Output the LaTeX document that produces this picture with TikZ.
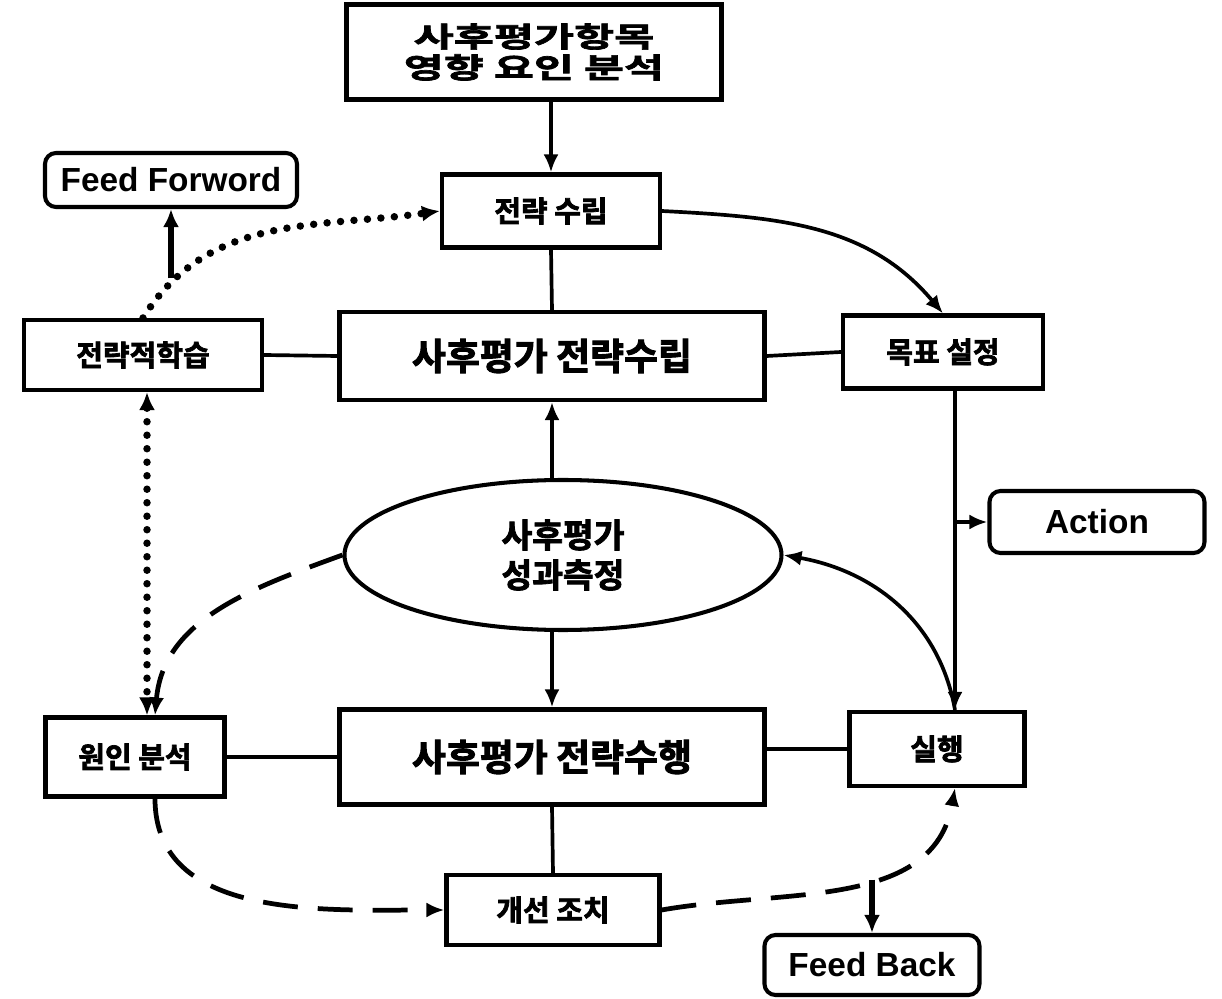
\documentclass[tikz,border=0pt]{standalone}
\usepackage{fontspec}
\setmainfont{Liberation Sans}
\newfontfamily\kr{Noto Sans CJK KR Bold}[FakeBold=2.5]
\newfontfamily\krwide{Noto Sans CJK KR Bold}[FakeStretch=1.55,FakeBold=2.5]
\usetikzlibrary{positioning}
\usetikzlibrary{shapes.geometric}
\usetikzlibrary{arrows.meta}

\begin{document}
\begin{tikzpicture}[x=0.2mm,y=0.2mm,
        box/.style={draw, line width=2.3pt, inner sep=0pt, align=center},
        rbox/.style={box, rounded corners=2.2mm, font=\bfseries\fontsize{19}{20}\selectfont},
        small/.style={box, font=\kr\fontsize{16.5}{18}\selectfont},
        big/.style={box, font=\kr\fontsize{21}{24}\selectfont},
        link/.style={line width=2.1pt},
        arr/.style={link, -{Latex[length=3.6mm,width=3mm]}},
        fat/.style={line width=3.2pt, -{Latex[length=3.6mm,width=3.2mm]}},
        longdash/.style={line width=2.7pt, dash pattern=on 7mm off 4mm, -{Latex[length=3.6mm,width=3mm]}},
        dotline/.style={line width=1.5mm, line cap=round, dash pattern=on 0pt off 2.7mm}]
    \useasboundingbox (0,0) rectangle (1222,-999);
    \node[box, minimum width=75mm, minimum height=19mm, font=\krwide\fontsize{16}{17.6}\selectfont] (top) at (534,-52) {사후평가항목\\영향 요인 분석};
    \node[small, minimum width=43.6mm, minimum height=14.6mm] (jl) at (551,-211) {전략 수립};
    \node[big, minimum width=85mm, minimum height=17.6mm] (ps) at (552,-356) {사후평가 전략수립};
    \node[small, minimum width=47.6mm, minimum height=14mm] (sl) at (143,-355) {전략적학습};
    \node[small, minimum width=40mm, minimum height=14.6mm] (mp) at (943,-352) {목표 설정};
    \node[rbox, minimum width=50.4mm, minimum height=10.8mm] (ff) at (171,-180) {Feed Forword};
    \node[rbox, minimum width=43mm, minimum height=12.4mm] (ac) at (1097,-522) {Action};
    \node[box, ellipse, minimum width=87.4mm, minimum height=30mm, font=\kr\fontsize{19}{22.8}\selectfont] (el) at (563,-555) {사후평가\\성과측정};
    \node[small, minimum width=35.8mm, minimum height=15.8mm] (wa) at (135,-757) {원인 분석};
    \node[big, minimum width=85mm, minimum height=19mm] (pe) at (552,-757) {사후평가 전략수행};
    \node[small, minimum width=35mm, minimum height=14.8mm] (sh) at (937,-749) {실행};
    \node[small, minimum width=42.6mm, minimum height=14mm] (gs) at (553,-910) {개선 조치};
    \node[rbox, minimum width=43mm, minimum height=12mm] (fb) at (872,-965) {Feed Back};
    \coordinate (act) at (955,-522);

    \draw[arr] (top.south -| jl.north) -- (jl.north);
    \draw[link] (jl.south) -- (ps.north);
    \draw[arr] (jl.east) to[out=-3,in=130] (mp.north);
    \draw[link] (sl.east) -- (ps.west);
    \draw[link] (ps.east) -- (mp.west);
    \draw[arr] (ps.south |- el.north) -- (ps.south);
    \draw[arr] (el.south -| pe.north) -- (pe.north);
    \draw[link] (wa.east) -- (pe.west);
    \draw[link] (sh.west -| pe.east) -- (sh.west);
    \draw[link] (pe.south) -- (gs.north);
    \draw[link] (mp.south -| act) -- (act);
    \draw[arr] (act) -- (sh.north -| act);
    \draw[arr] (act) -- (ac.west);
    \draw[arr, {Latex[length=3.6mm,width=3mm]}-] (el.east) to[out=-10,in=100] (sh.north -| act);
    \draw[dotline, -{Latex[length=3.6mm,width=3.2mm]}] (sl.north) to[out=58,in=188] coordinate[pos=0.15] (ffs) (jl.west);
    \draw[fat] (ff.south |- ffs) -- (ff.south);
    \draw[dotline, {Latex[length=3.6mm,width=3.2mm]}-{Latex[length=3.6mm,width=3.2mm]}] ([xshift=0.8mm]sl.south) -- ([xshift=0.8mm]sl.south |- wa.north);
    \draw[longdash] (el.west) to[out=200,in=85] ([xshift=4mm]wa.north);
    \draw[longdash] ([xshift=4mm]wa.south) to[out=-90,in=180] (gs.west);
    \draw[longdash] (gs.east) to[out=10,in=-100] coordinate[pos=0.58] (fbs) (sh.south -| act);
    \draw[fat] (fb.north |- fbs) -- (fb.north);
\end{tikzpicture}
\end{document}
